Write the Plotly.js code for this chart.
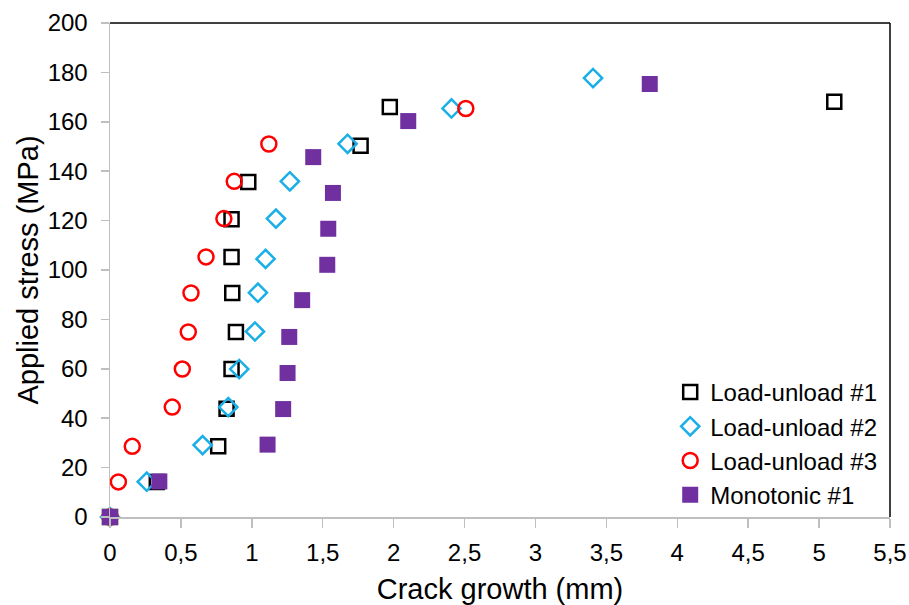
<!DOCTYPE html>
<html>
<head>
<meta charset="utf-8">
<script src="https://cdn.plot.ly/plotly-3.0.1.min.js"></script>
<style>html,body{margin:0;padding:0;background:#fff}#chart{width:909px;height:605px}</style>
</head>
<body>
<div id="chart"></div>
<script>
// Load-unload #1 (black open squares)
const lu1X = [0, 0.33, 0.763, 0.822, 0.857, 0.888, 0.862, 0.857, 0.857, 0.975, 1.767, 1.973, 5.107];
const lu1Y = [0, 14.2, 28.6, 43.8, 59.9, 74.9, 90.7, 105.3, 120.5, 135.6, 150.3, 166.0, 168.1];
// Load-unload #2 (cyan open diamonds)
const lu2X = [0, 0.259, 0.653, 0.834, 0.911, 1.022, 1.043, 1.097, 1.170, 1.268, 1.675, 2.408, 3.406];
const lu2Y = [0, 14.3, 29.1, 44.5, 59.9, 75.1, 90.8, 104.5, 120.8, 135.9, 151.1, 165.4, 177.7];
// Load-unload #3 (red open circles)
const lu3X = [0, 0.059, 0.157, 0.439, 0.510, 0.552, 0.571, 0.677, 0.803, 0.876, 1.120, 2.509];
const lu3Y = [0, 14.2, 28.6, 44.5, 59.9, 74.9, 90.7, 105.3, 120.8, 135.9, 151.0, 165.4];
// Monotonic #1 (purple filled squares)
const monoX = [0, 0.348, 1.111, 1.221, 1.252, 1.264, 1.355, 1.532, 1.539, 1.572, 1.433, 2.103, 3.806];
const monoY = [0, 14.4, 29.3, 43.7, 58.3, 72.9, 87.8, 102.1, 116.7, 131.2, 145.7, 160.3, 175.3];

const names = ['Load-unload #1', 'Load-unload #2', 'Load-unload #3', 'Monotonic #1'];
const xTicks = [0, 0.5, 1, 1.5, 2, 2.5, 3, 3.5, 4, 4.5, 5, 5.5];
const yTicks = [0, 20, 40, 60, 80, 100, 120, 140, 160, 180, 200];

const traces = [
  {x: lu1X, y: lu1Y, name: names[0], type: 'scatter', mode: 'markers', cliponaxis: false,
   marker: {symbol: 'square-open', size: 14, color: '#000000', line: {width: 2.5, color: '#000000'}}},
  {x: lu2X, y: lu2Y, name: names[1], type: 'scatter', mode: 'markers', cliponaxis: false,
   marker: {symbol: 'diamond-open', size: 14, color: '#1AAFE6', line: {width: 2.5, color: '#1AAFE6'}}},
  {x: lu3X, y: lu3Y, name: names[2], type: 'scatter', mode: 'markers', cliponaxis: false,
   marker: {symbol: 'circle-open', size: 15, color: '#FF0000', line: {width: 2.5, color: '#FF0000'}}},
  {x: monoX, y: monoY, name: names[3], type: 'scatter', mode: 'markers', cliponaxis: false,
   marker: {symbol: 'square', size: 16, color: '#7030A0', line: {width: 0}}}
];

const layout = {
  width: 909, height: 605,
  margin: {l: 110, r: 19, t: 23, b: 88},
  paper_bgcolor: '#ffffff', plot_bgcolor: '#ffffff',
  separators: ', ',
  font: {family: 'Liberation Sans, Arial, sans-serif', color: '#000000', size: 24},
  showlegend: true,
  legend: {x: 0.99, xanchor: 'right', y: 0.0, yanchor: 'bottom', bgcolor: 'rgba(0,0,0,0)',
           font: {size: 24}, itemwidth: 30, tracegroupgap: 0},
  xaxis: {
    range: [0, 5.5], tickvals: xTicks, showgrid: false, zeroline: false,
    showline: true, linecolor: '#BFBFBF', linewidth: 1.5,
    ticks: 'outside', ticklen: 9, tickcolor: '#BFBFBF', tickwidth: 1.5,
    tickfont: {size: 24}, ticklabelstandoff: 5,
    title: {text: 'Crack growth (mm)', font: {size: 29}, standoff: 15}
  },
  yaxis: {
    range: [0, 200], tickvals: yTicks, showgrid: false, zeroline: false,
    showline: true, linecolor: '#BFBFBF', linewidth: 1.5,
    ticks: 'outside', ticklen: 8, tickcolor: '#BFBFBF', tickwidth: 1.5,
    tickfont: {size: 24}, ticklabelstandoff: 8,
    title: {text: 'Applied stress (MPa)', font: {size: 29}, standoff: 0}
  },
  shapes: [
    {type: 'line', xref: 'paper', yref: 'paper', x0: 0, x1: 1, y0: 1, y1: 1, line: {color: '#000000', width: 1.5}},
    {type: 'line', xref: 'paper', yref: 'paper', x0: 1, x1: 1, y0: 0, y1: 1, line: {color: '#000000', width: 1.5}}
  ]
};

Plotly.newPlot('chart', traces, layout, {displayModeBar: false, staticPlot: true});
</script>
</body>
</html>
